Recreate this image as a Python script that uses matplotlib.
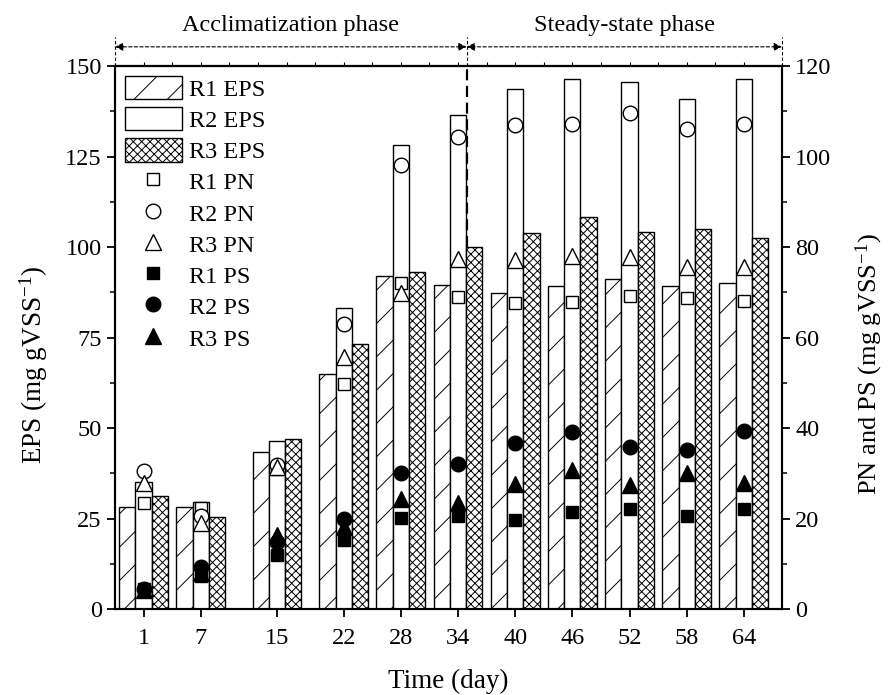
import matplotlib
matplotlib.use("Agg")
import matplotlib.pyplot as plt
from matplotlib.patches import Patch
from matplotlib.lines import Line2D
import numpy as np

plt.rcParams['font.family'] = ['Liberation Serif', 'DejaVu Serif']
plt.rcParams['mathtext.fontset'] = 'custom'
plt.rcParams['mathtext.rm'] = 'Liberation Serif'
plt.rcParams['mathtext.it'] = 'Liberation Serif:italic'
plt.rcParams['hatch.linewidth'] = 0.7

# ---- data ----
days = [1, 7, 15, 22, 28, 34, 40, 46, 52, 58, 64]
r1_eps = [28.1, 28.3, 43.3, 64.9, 92.0, 89.5, 87.2, 89.3, 91.3, 89.1, 90.1]
r2_eps = [35.0, 29.5, 46.3, 83.1, 128.1, 136.5, 143.6, 146.3, 145.5, 141.0, 146.5]
r3_eps = [31.2, 25.3, 47.1, 73.3, 93.2, 100.1, 104.0, 108.2, 104.2, 104.9, 102.4]
r1_pn = [23.4, 22.3, 31.0, 49.7, 72.0, 68.9, 67.6, 67.8, 69.2, 68.7, 68.1]
r2_pn = [30.5, 20.6, 31.8, 62.9, 98.1, 104.4, 107.0, 107.2, 109.7, 106.1, 107.1]
r3_pn = [27.9, 19.0, 31.3, 55.8, 69.8, 77.3, 77.1, 78.0, 77.9, 75.6, 75.5]
r1_ps = [4.5, 7.2, 12.0, 15.2, 20.2, 20.6, 19.7, 21.5, 22.2, 20.6, 22.0]
r2_ps = [4.4, 9.3, 14.8, 20.0, 30.0, 32.0, 36.6, 39.2, 35.9, 35.1, 39.3]
r3_ps = [4.2, 8.0, 16.3, 18.2, 24.3, 23.5, 27.6, 30.7, 27.4, 30.1, 27.8]
phase_labels = ["Acclimatization phase", "Steady-state phase"]
phase_edges = [-2, 34.9, 68]

x = np.array(days, dtype=float)
w = 1.71

fig = plt.figure(figsize=(8.88, 6.95), dpi=100)
ax = fig.add_axes([0.1295, 0.1237, 0.7511, 0.7813])

ax.bar(x - w, r1_eps, w, facecolor='white', edgecolor='black', hatch='/', linewidth=1.0, zorder=2)
ax.bar(x, r2_eps, w, facecolor='white', edgecolor='black', linewidth=1.0, zorder=2)
ax.bar(x + w, r3_eps, w, facecolor='white', edgecolor='black', hatch='xxxx', linewidth=1.0, zorder=2)

ax.set_xlim(-2, 68)
ax.set_ylim(0, 150)
ax.set_xticks(days)
ax.set_xticklabels([str(d) for d in days])
ax.set_yticks(np.arange(0, 151, 25))
ax.set_yticks(np.arange(12.5, 150, 25), minor=True)

ax2 = ax.twinx()
ax2.set_ylim(0, 120)
ax2.set_yticks(np.arange(0, 121, 20))
ax2.set_yticks(np.arange(10, 120, 20), minor=True)

mk = dict(linestyle='none', markeredgecolor='black', markeredgewidth=1.0, zorder=3, clip_on=False)
ax2.plot(x, r1_pn, marker='s', markersize=8.5, markerfacecolor='white', **mk)
ax2.plot(x, r2_pn, marker='o', markersize=10.5, markerfacecolor='white', **mk)
ax2.plot(x, r3_pn, marker='^', markersize=11, markerfacecolor='white', **mk)
ax2.plot(x, r1_ps, marker='s', markersize=8.5, markerfacecolor='black', **mk)
ax2.plot(x, r2_ps, marker='o', markersize=10.5, markerfacecolor='black', **mk)
ax2.plot(x, r3_ps, marker='^', markersize=11, markerfacecolor='black', **mk)

# phase divider line inside plot
ax.plot([phase_edges[1], phase_edges[1]], [r3_eps[5], 150], color='black', lw=1.6,
        linestyle=(0, (5, 2.5)), zorder=4)

# top annotations
for xe in phase_edges:
    ax.plot([xe, xe], [150, 158], color='black', lw=0.8, linestyle=(0, (3, 2)), clip_on=False)
for i in range(2):
    ax.annotate('', xy=(phase_edges[i], 155.3), xytext=(phase_edges[i + 1], 155.3),
                xycoords='data', textcoords='data', annotation_clip=False,
                arrowprops=dict(arrowstyle='<|-|>', color='black', lw=0.8, linestyle=(0, (3, 2)),
                                mutation_scale=12, shrinkA=0, shrinkB=0))
    ax.text((phase_edges[i] + phase_edges[i + 1]) / 2, 161.3, phase_labels[i], ha='center',
            va='center', fontsize=17.5, clip_on=False)

for a in (ax, ax2):
    for s in a.spines.values():
        s.set_linewidth(1.5)
ax.tick_params(axis='both', which='major', direction='out', length=6, width=1.3, labelsize=17.5)
ax.tick_params(axis='x', which='major', pad=8)
ax.tick_params(axis='y', which='minor', direction='out', length=3.5, width=1.1)
ax2.tick_params(axis='y', which='major', direction='out', length=6, width=1.3, labelsize=17.5)
ax2.tick_params(axis='y', which='minor', direction='out', length=3.5, width=1.1)

# top small ticks
axt = ax.secondary_xaxis('top')
axt.set_xticks(np.arange(1, 67, 3))
axt.tick_params(direction='out', length=3, width=0.8, labelsize=0, labeltop=False)
axt.spines['top'].set_linewidth(1.5)

ax.set_xlabel('Time (day)', fontsize=19.5, labelpad=14)
ax.set_ylabel('EPS (mg gVSS$^{-1}$)', fontsize=19.5)
ax2.set_ylabel('PN and PS (mg gVSS$^{-1}$)', fontsize=19)
ax.yaxis.set_label_coords(-0.097, 0.45)
ax2.yaxis.set_label_coords(1.108, 0.45)

handles = [
    Patch(facecolor='white', edgecolor='black', hatch='/', label='R1 EPS'),
    Patch(facecolor='white', edgecolor='black', label='R2 EPS'),
    Patch(facecolor='white', edgecolor='black', hatch='xxxx', label='R3 EPS'),
    Line2D([], [], marker='s', ls='none', ms=8.5, mfc='white', mec='black', label='R1 PN'),
    Line2D([], [], marker='o', ls='none', ms=10.5, mfc='white', mec='black', label='R2 PN'),
    Line2D([], [], marker='^', ls='none', ms=11, mfc='white', mec='black', label='R3 PN'),
    Line2D([], [], marker='s', ls='none', ms=8.5, mfc='black', mec='black', label='R1 PS'),
    Line2D([], [], marker='o', ls='none', ms=10.5, mfc='black', mec='black', label='R2 PS'),
    Line2D([], [], marker='^', ls='none', ms=11, mfc='black', mec='black', label='R3 PS'),
]
ax2.legend(handles=handles, loc='upper left', frameon=False, fontsize=17.5,
           handlelength=2.35, handleheight=1.1, labelspacing=0.26, handletextpad=0.3,
           borderpad=0.2, borderaxespad=0.2)

fig.savefig('out.png', dpi=100)
